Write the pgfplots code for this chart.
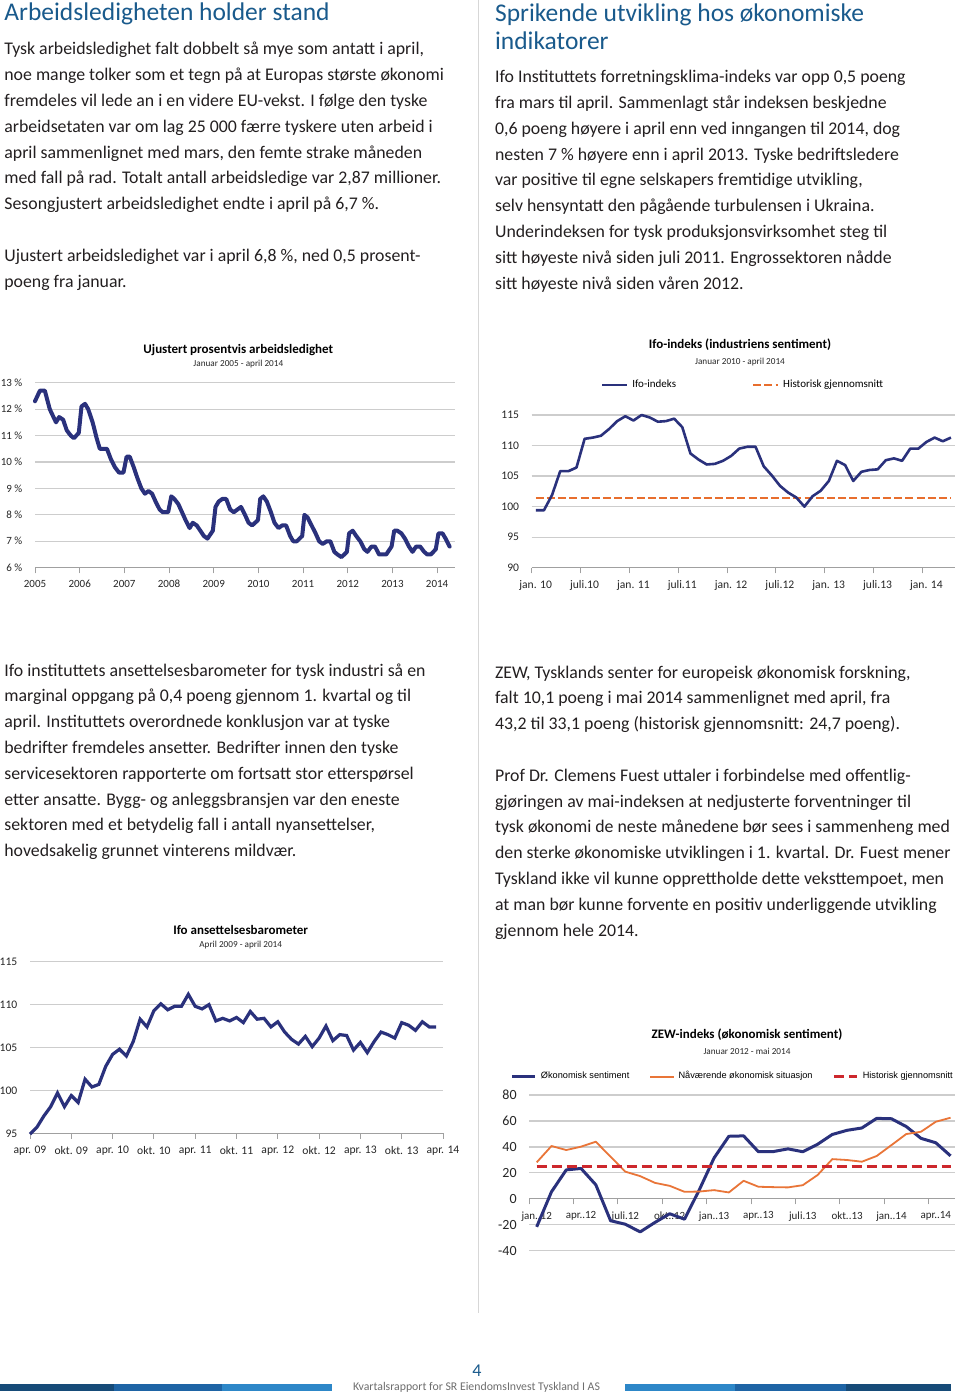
\documentclass[border=0pt]{standalone}
\usepackage{fontspec}
\setmainfont{Carlito}
\newfontfamily\arialfont{Liberation Sans}
\usepackage{pgfplots}
\pgfplotsset{compat=1.18}
\definecolor{navy}{RGB}{42,49,124}
\definecolor{headblue}{RGB}{25,90,140}
\definecolor{bodytext}{RGB}{35,31,32}
\definecolor{gridgrey}{RGB}{205,205,205}
\definecolor{axisgrey}{RGB}{160,160,160}
\definecolor{ifoorange}{RGB}{232,110,45}
\definecolor{zeworange}{RGB}{233,117,56}
\definecolor{zewred}{RGB}{205,40,45}
\definecolor{divgrey}{RGB}{215,215,215}
\definecolor{footgrey}{RGB}{110,110,110}
\definecolor{bardark}{RGB}{22,75,120}
\definecolor{barmid}{RGB}{30,100,165}
\definecolor{barlight}{RGB}{45,135,200}
\newcommand\bodyfont{\fontsize{8.9}{10}\selectfont}
\newcommand\tl[3]{\node[anchor=base west,inner sep=0pt,text=bodytext,font=\bodyfont] at (#1,#2) {#3};}
\newcommand\hd[3]{\node[anchor=base west,inner sep=0pt,text=headblue,font=\fontsize{12.75}{14}\selectfont] at (#1,#2) {#3};}
\newcommand\ctitle[3]{\node[inner sep=0pt,text=black,font=\bfseries\fontsize{6.5}{7}\selectfont] at (#1,#2) {#3};}
\newcommand\csub[3]{\node[inner sep=0pt,text=black!85,font=\fontsize{4.6}{5}\selectfont] at (#1,#2) {#3};}
\pgfplotsset{
  pagechart/.style={
    anchor=south west, scale only axis,
    axis x line*=bottom, axis y line*=left,
    y axis line style={draw=none},
    x axis line style={axisgrey, line width=0.5pt},
    ymajorgrids, major grid style={gridgrey, line width=0.6pt},
    tick align=outside, major tick length=2.8pt,
    xtick style={axisgrey, line width=0.5pt},
    ytick style={draw=none},
    ticklabel style={font=\fontsize{5.8}{6}\selectfont, text=black!85},
    clip=false,
  },
  lineleg/.style={legend image code/.code={\draw[##1] (0pt,0pt) -- (#1,0pt);}},
}
\begin{document}
\begin{tikzpicture}
\path[fill=white, use as bounding box] (0,0) rectangle (480pt,-698pt);
\begin{scope}[x=0.5pt,y=-0.5pt]
\draw[divgrey, line width=0.5pt] (478,0) -- (478,1313);
% headings
\hd{4}{20.7}{Arbeidsledigheten holder stand}
\hd{494.7}{21.7}{Sprikende utvikling hos økonomiske}
\hd{494.7}{49.3}{indikatorer}
% column 1 top
\tl{4}{55}{Tysk arbeidsledighet falt dobbelt så mye som antatt i april,}
\tl{4}{80.8}{noe mange tolker som et tegn på at Europas største økonomi}
\tl{4}{106.6}{fremdeles vil lede an i en videre EU-vekst. I følge den tyske}
\tl{4}{132.4}{arbeidsetaten var om lag 25 000 færre tyskere uten arbeid i}
\tl{4}{158.2}{april sammenlignet med mars, den femte strake måneden}
\tl{4}{184}{med fall på rad. Totalt antall arbeidsledige var 2,87 millioner.}
\tl{4}{209.8}{Sesongjustert arbeidsledighet endte i april på 6,7 \%.}
\tl{4}{261.4}{Ujustert arbeidsledighet var i april 6,8 \%, ned 0,5 prosent-}
\tl{4}{287.2}{poeng fra januar.}
% column 2 top
\tl{494.7}{82.7}{Ifo Instituttets forretningsklima-indeks var opp 0,5 poeng}
\tl{494.7}{108.5}{fra mars til april. Sammenlagt står indeksen beskjedne}
\tl{494.7}{134.3}{0,6 poeng høyere i april enn ved inngangen til 2014, dog}
\tl{494.7}{160.1}{nesten 7 \% høyere enn i april 2013. Tyske bedriftsledere}
\tl{494.7}{185.9}{var positive til egne selskapers fremtidige utvikling,}
\tl{494.7}{211.7}{selv hensyntatt den pågående turbulensen i Ukraina.}
\tl{494.7}{237.5}{Underindeksen for tysk produksjonsvirksomhet steg til}
\tl{494.7}{263.3}{sitt høyeste nivå siden juli 2011. Engrossektoren nådde}
\tl{494.7}{289.1}{sitt høyeste nivå siden våren 2012.}
% column 1 middle
\tl{4}{676}{Ifo instituttets ansettelsesbarometer for tysk industri så en}
\tl{4}{701.8}{marginal oppgang på 0,4 poeng gjennom 1. kvartal og til}
\tl{4}{727.6}{april. Instituttets overordnede konklusjon var at tyske}
\tl{4}{753.4}{bedrifter fremdeles ansetter. Bedrifter innen den tyske}
\tl{4}{779.2}{servicesektoren rapporterte om fortsatt stor etterspørsel}
\tl{4}{805}{etter ansatte. Bygg- og anleggsbransjen var den eneste}
\tl{4}{830.8}{sektoren med et betydelig fall i antall nyansettelser,}
\tl{4}{856.6}{hovedsakelig grunnet vinterens mildvær.}
% column 2 middle
\tl{494.7}{678}{ZEW, Tysklands senter for europeisk økonomisk forskning,}
\tl{494.7}{703.8}{falt 10,1 poeng i mai 2014 sammenlignet med april, fra}
\tl{494.7}{729.6}{43,2 til 33,1 poeng (historisk gjennomsnitt: 24,7 poeng).}
\tl{494.7}{781.2}{Prof Dr. Clemens Fuest uttaler i forbindelse med offentlig-}
\tl{494.7}{807}{gjøringen av mai-indeksen at nedjusterte forventninger til}
\tl{494.7}{832.8}{tysk økonomi de neste månedene bør sees i sammenheng med}
\tl{494.7}{858.6}{den sterke økonomiske utviklingen i 1. kvartal. Dr. Fuest mener}
\tl{494.7}{884.4}{Tyskland ikke vil kunne opprettholde dette veksttempoet, men}
\tl{494.7}{910.2}{at man bør kunne forvente en positiv underliggende utvikling}
\tl{494.7}{936}{gjennom hele 2014.}
% chart titles
\ctitle{238.3}{350}{Ujustert prosentvis arbeidsledighet}
\csub{238.3}{364.3}{Januar 2005 - april 2014}
\ctitle{740}{345}{Ifo-indeks (industriens sentiment)}
\csub{740}{361.7}{Januar 2010 - april 2014}
\ctitle{240.7}{930}{Ifo ansettelsesbarometer}
\csub{240.7}{945}{April 2009 - april 2014}
\ctitle{747}{1035}{ZEW-indeks (økonomisk sentiment)}
\csub{747}{1051.7}{Januar 2012 - mai 2014}
% footer
\node[inner sep=0pt,text=headblue,font=\fontsize{9}{10}\selectfont] at (477,1371) {4};
\node[inner sep=0pt,text=footgrey,font=\fontsize{5.9}{6}\selectfont] at (476.5,1387) {Kvartalsrapport for SR EiendomsInvest Tyskland I AS};
\fill[bardark] (0,1384) rectangle (114,1391);
\fill[barmid] (114,1384) rectangle (222,1391);
\fill[barlight] (222,1384) rectangle (332,1391);
\fill[barlight] (625,1384) rectangle (735,1391);
\fill[barmid] (735,1384) rectangle (846,1391);
\fill[bardark] (846,1384) rectangle (951,1391);
\end{scope}

% ---------- Chart 1: Ujustert arbeidsledighet ----------
\begin{axis}[pagechart, at={(17.5pt,-283.85pt)}, width=210pt, height=92.5pt,
  xmin=2005, xmax=2014.4, ymin=6, ymax=13,
  xtick={2005,2006,2007,2008,2009,2010,2011,2012,2013,2014},
  xticklabels={2005,2006,2007,2008,2009,2010,2011,2012,2013,2014},
  ytick={6,7,8,9,10,11,12,13},
  yticklabels={6 \%,7 \%,8 \%,9 \%,10 \%,11 \%,12 \%,13 \%},
  ticklabel style={font=\fontsize{5.5}{6}\selectfont},
]
\addplot[navy, line width=2pt, line join=round, line cap=round] coordinates {
(2005.00,12.3) (2005.11,12.7) (2005.22,12.7) (2005.33,12.0) (2005.47,11.5) (2005.54,11.7) (2005.63,11.6) (2005.71,11.2) (2005.80,11.0) (2005.87,10.9) (2005.98,11.1) (2006.04,12.1) (2006.12,12.2) (2006.19,12.0) (2006.29,11.5) (2006.38,10.9) (2006.45,10.5) (2006.53,10.5) (2006.61,10.5) (2006.70,10.1) (2006.79,9.8) (2006.88,9.6) (2006.98,9.6) (2007.05,10.2) (2007.12,10.2) (2007.21,9.8) (2007.29,9.4) (2007.38,9.0) (2007.46,8.8) (2007.54,8.9) (2007.62,8.8) (2007.70,8.5) (2007.79,8.2) (2007.86,8.1) (2007.98,8.1) (2008.05,8.7) (2008.12,8.6) (2008.21,8.4) (2008.29,8.1) (2008.37,7.8) (2008.46,7.5) (2008.53,7.7) (2008.62,7.6) (2008.70,7.4) (2008.78,7.2) (2008.86,7.1) (2008.98,7.4) (2009.04,8.3) (2009.11,8.5) (2009.19,8.6) (2009.28,8.6) (2009.37,8.2) (2009.45,8.1) (2009.53,8.2) (2009.61,8.3) (2009.70,8.0) (2009.78,7.7) (2009.86,7.6) (2009.99,7.8) (2010.04,8.6) (2010.11,8.7) (2010.19,8.5) (2010.28,8.1) (2010.36,7.7) (2010.45,7.5) (2010.53,7.6) (2010.62,7.6) (2010.71,7.2) (2010.78,7.0) (2010.86,7.0) (2010.98,7.2) (2011.03,8.0) (2011.10,7.9) (2011.19,7.6) (2011.28,7.3) (2011.36,7.0) (2011.44,6.9) (2011.53,7.0) (2011.61,7.0) (2011.70,6.6) (2011.77,6.5) (2011.86,6.4) (2011.98,6.6) (2012.03,7.3) (2012.11,7.4) (2012.19,7.2) (2012.28,7.0) (2012.37,6.7) (2012.44,6.6) (2012.53,6.8) (2012.61,6.8) (2012.70,6.5) (2012.78,6.5) (2012.86,6.5) (2012.98,6.8) (2013.04,7.4) (2013.11,7.4) (2013.20,7.3) (2013.28,7.1) (2013.37,6.8) (2013.45,6.6) (2013.53,6.8) (2013.62,6.8) (2013.71,6.6) (2013.78,6.5) (2013.86,6.5) (2013.97,6.7) (2014.03,7.3) (2014.12,7.3) (2014.19,7.1) (2014.28,6.8)
};
\end{axis}

% ---------- Chart 2: Ifo-indeks ----------
\begin{axis}[pagechart, at={(265.85pt,-283.85pt)}, width=211.65pt, height=76.35pt,
  xmin=-0.5, xmax=51.5, ymin=90, ymax=115,
  xtick={-0.5,5.5,11.5,17.5,23.5,29.5,35.5,41.5,47.5},
  xticklabels={jan. 10,juli.10,jan. 11,juli.11,jan. 12,juli.12,jan. 13,juli.13,jan. 14},
  xticklabel style={xshift=2pt},
  ytick={90,95,100,105,110,115},
  yticklabels={90,95,100,105,110,115},
  lineleg=12.5pt,
  reverse legend,
  legend style={at={(0.5015,1.196)}, anchor=center, draw=none, fill=none,
    font=\fontsize{5.5}{6}\selectfont, legend columns=2,
    /tikz/every even column/.append style={column sep=36pt}},
]
\addplot[ifoorange, line width=1pt, dash pattern=on 4pt off 1.6pt] coordinates {(0,101.35) (51,101.35)};
\addlegendentry{Historisk gjennomsnitt}
\addplot[navy, line width=1.3pt, line join=round] coordinates {
(0,99.4) (1,99.4) (2,101.9) (3,105.8) (4,105.8) (5,106.4) (6,111.1) (7,111.3) (8,111.6) (9,112.7) (10,114.0) (11,114.8) (12,114.1) (13,115.0) (14,114.6) (15,113.9) (16,114.0) (17,114.4) (18,113.0) (19,108.7) (20,107.7) (21,106.9) (22,107.0) (23,107.5) (24,108.3) (25,109.5) (26,109.8) (27,109.8) (28,106.6) (29,105.1) (30,103.4) (31,102.3) (32,101.5) (33,100.0) (34,101.7) (35,102.6) (36,104.2) (37,107.5) (38,106.8) (39,104.2) (40,105.7) (41,106.0) (42,106.1) (43,107.6) (44,107.9) (45,107.5) (46,109.5) (47,109.5) (48,110.6) (49,111.3) (50,110.7) (51,111.3)
};
\addlegendentry{Ifo-indeks}
\end{axis}

% ---------- Chart 3: Ifo ansettelsesbarometer ----------
\begin{axis}[pagechart, at={(15pt,-566.65pt)}, width=206.5pt, height=85.8pt,
  xmin=0, xmax=60, ymin=95, ymax=115,
  xtick={0,6,12,18,24,30,36,42,48,54,60},
  xticklabels={apr. 09,okt. 09,apr. 10,okt. 10,apr. 11,okt. 11,apr. 12,okt. 12,apr. 13,okt. 13,apr. 14},
  ytick={95,100,105,110,115},
  yticklabels={95,100,105,110,115},
]
\addplot[navy, line width=1.6pt, line join=miter] coordinates {
(0,94.9) (1,95.7) (2,97.0) (3,98.1) (4,99.7) (5,98.1) (6,99.4) (7,98.6) (8,101.3) (9,100.4) (10,100.7) (11,102.8) (12,104.2) (13,104.8) (14,104.0) (15,105.7) (16,108.3) (17,107.4) (18,109.3) (19,110.1) (20,109.4) (21,109.8) (22,109.8) (23,111.2) (24,109.8) (25,109.5) (26,110.0) (27,108.1) (28,108.4) (29,108.1) (30,108.5) (31,107.9) (32,109.2) (33,108.3) (34,108.4) (35,107.4) (36,108.0) (37,106.8) (38,105.95) (39,105.4) (40,106.3) (41,105.1) (42,106.1) (43,107.5) (44,105.8) (45,106.5) (46,106.4) (47,104.7) (48,105.6) (49,104.4) (50,105.7) (51,106.8) (52,106.5) (53,106.1) (54,107.9) (55,107.6) (56,107.0) (57,108.0) (58,107.4) (59,107.4)
};
\end{axis}

% ---------- Chart 4: ZEW ----------
\begin{axis}[pagechart, at={(264.65pt,-625.35pt)}, width=212.85pt, height=77.85pt,
  axis x line*=middle, hide obscured x ticks=false,
  xmin=-0.5, xmax=28.3, ymin=-40, ymax=80,
  xtick={-0.5,2.5,5.5,8.5,11.5,14.5,17.5,20.5,23.5,26.5},
  xticklabels={jan..12,apr..12,juli.12,okt..12,jan..13,apr..13,juli.13,okt..13,jan..14,apr..14},
  xticklabel style={xshift=3.7pt, font=\fontsize{5.5}{6}\selectfont},
  ytick={-40,-20,0,20,40,60,80},
  yticklabels={-40,-20,0,20,40,60,80},
  yticklabel style={font=\fontsize{7}{7}\selectfont},
  lineleg=11.7pt,
  legend style={at={(0.48,1.1175)}, anchor=center, draw=none, fill=none,
    font=\arialfont\fontsize{4.6}{5}\selectfont, legend columns=3,
    /tikz/every even column/.append style={column sep=8pt}},
]
\addplot[navy, line width=1.5pt, line join=round] coordinates {
(0,-21.6) (1,5.4) (2,22.3) (3,23.4) (4,10.8) (5,-16.9) (6,-19.6) (7,-25.5) (8,-18.2) (9,-11.5) (10,-15.7) (11,6.9) (12,31.5) (13,48.2) (14,48.5) (15,36.3) (16,36.4) (17,38.5) (18,36.3) (19,42.0) (20,49.6) (21,52.8) (22,54.6) (23,62.0) (24,61.7) (25,55.7) (26,46.6) (27,43.2) (28,33.1)
};
\addlegendentry{Økonomisk sentiment}
\addplot[zeworange, line width=0.9pt, line join=round] coordinates {
(0,28.1) (1,40.7) (2,37.6) (3,40.2) (4,44.0) (5,32.4) (6,20.9) (7,17.5) (8,12.3) (9,10.0) (10,5.4) (11,5.6) (12,6.7) (13,4.9) (14,13.9) (15,9.3) (16,9.0) (17,8.8) (18,10.5) (19,18.3) (20,30.6) (21,29.9) (22,28.6) (23,33.0) (24,41.4) (25,49.9) (26,51.7) (27,59.4) (28,62.5)
};
\addlegendentry{Nåværende økonomisk situasjon}
\addplot[zewred, line width=1.4pt, dash pattern=on 5pt off 2.5pt] coordinates {(0,24.7) (28,24.7)};
\addlegendentry{Historisk gjennomsnitt}
\end{axis}
\end{tikzpicture}
\end{document}
